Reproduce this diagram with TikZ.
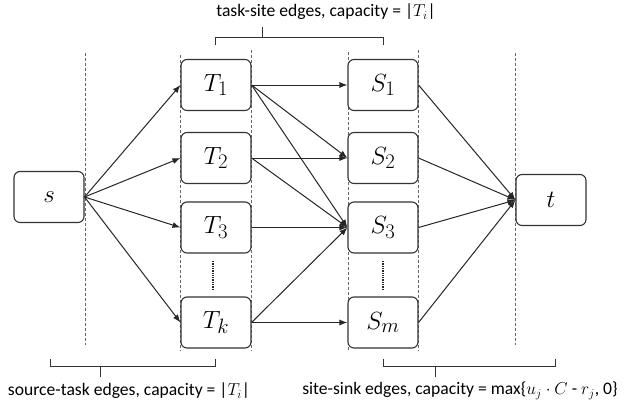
\documentclass[tikz,border=0pt]{standalone}
\usepackage{fontspec}
\setmainfont{Carlito}
\usetikzlibrary{arrows.meta}
\begin{document}
\begin{tikzpicture}[x=1pt,y=-1pt,
  vbox/.style={draw=black!80, line width=1.1pt, rounded corners=6pt, minimum width=70pt, minimum height=51pt, inner sep=0pt, font=\fontsize{32}{34}\selectfont, fill=white},
  edge/.style={draw=black!85, line width=1pt, -{Latex[length=8pt,width=6pt]}},
  guide/.style={draw=black!60, line width=0.6pt, densely dashed},
  brace/.style={draw=black!80, line width=1pt},
  vdots/.style={draw=black!85, line width=1.3pt, densely dotted},
  lbl/.style={font=\fontsize{17.6}{19}\selectfont, inner sep=0pt}
]
\useasboundingbox (0,0) rectangle (638,408);
% guide lines
\draw[guide] (85,53) -- (85,345);
\draw[guide] (180,55) -- (180,351);
\draw[guide] (251,50) -- (251,351);
\draw[guide] (348,52) -- (348,351);
\draw[guide] (418,50) -- (418,351);
\draw[guide] (515,53) -- (515,345);
% nodes
\node[vbox] (s) at (49,197) {$s$};
\node[vbox] (T1) at (216,85) {$T_1$};
\node[vbox] (T2) at (216,158) {$T_2$};
\node[vbox] (T3) at (216,227.5) {$T_3$};
\node[vbox] (Tk) at (216,322.5) {$T_k$};
\node[vbox] (S1) at (383,85) {$S_1$};
\node[vbox] (S2) at (383,158) {$S_2$};
\node[vbox] (S3) at (383,227.5) {$S_3$};
\node[vbox] (Sm) at (383,322.5) {$S_m$};
\node[vbox] (t) at (551,200) {$t$};
% dots
\draw[vdots] (213,261) -- (213,289);
\draw[vdots] (383,261) -- (383,289);
% source-task
\foreach \n in {T1,T2,T3,Tk} \draw[edge] (s.east) -- (\n.west);
% task-site
\draw[edge] (T1.east) -- (S1.west);
\draw[edge] (T1.east) -- (S2.west);
\draw[edge] (T1.east) -- (S3.west);
\draw[edge] (T2.east) -- (S2.west);
\draw[edge] (T2.east) -- (S3.west);
\draw[edge] (T3.east) -- (S3.west);
\draw[edge] (Tk.east) -- (S3.west);
\draw[edge] (Tk.east) -- (Sm.west);
% site-sink
\foreach \n in {S1,S2,S3,Sm} \draw[edge] (\n.east) -- (t.west);
% brackets
\draw[brace] (215,45) -- (215,37) -- (383,37) -- (383,45);
\draw[brace] (262,37) -- (262,27);
\draw[brace] (50,359) -- (50,366) -- (215,366) -- (215,359);
\draw[brace] (100,366) -- (100,377);
\draw[brace] (383,359) -- (383,366) -- (555,366) -- (555,359);
\draw[brace] (435,366) -- (435,377);
% labels
\node[lbl] (toplbl) at (326,12) {task-site edges, capacity = |$T_i$|};
\node[lbl] (stlbl) at (129,391) {source-task edges, capacity = |$T_i$|};
\node[lbl] (sslbl) at (460,391) {site-sink edges, capacity = max\{$u_j\cdot C$ - $r_j$, 0\}};
\end{tikzpicture}
\end{document}
